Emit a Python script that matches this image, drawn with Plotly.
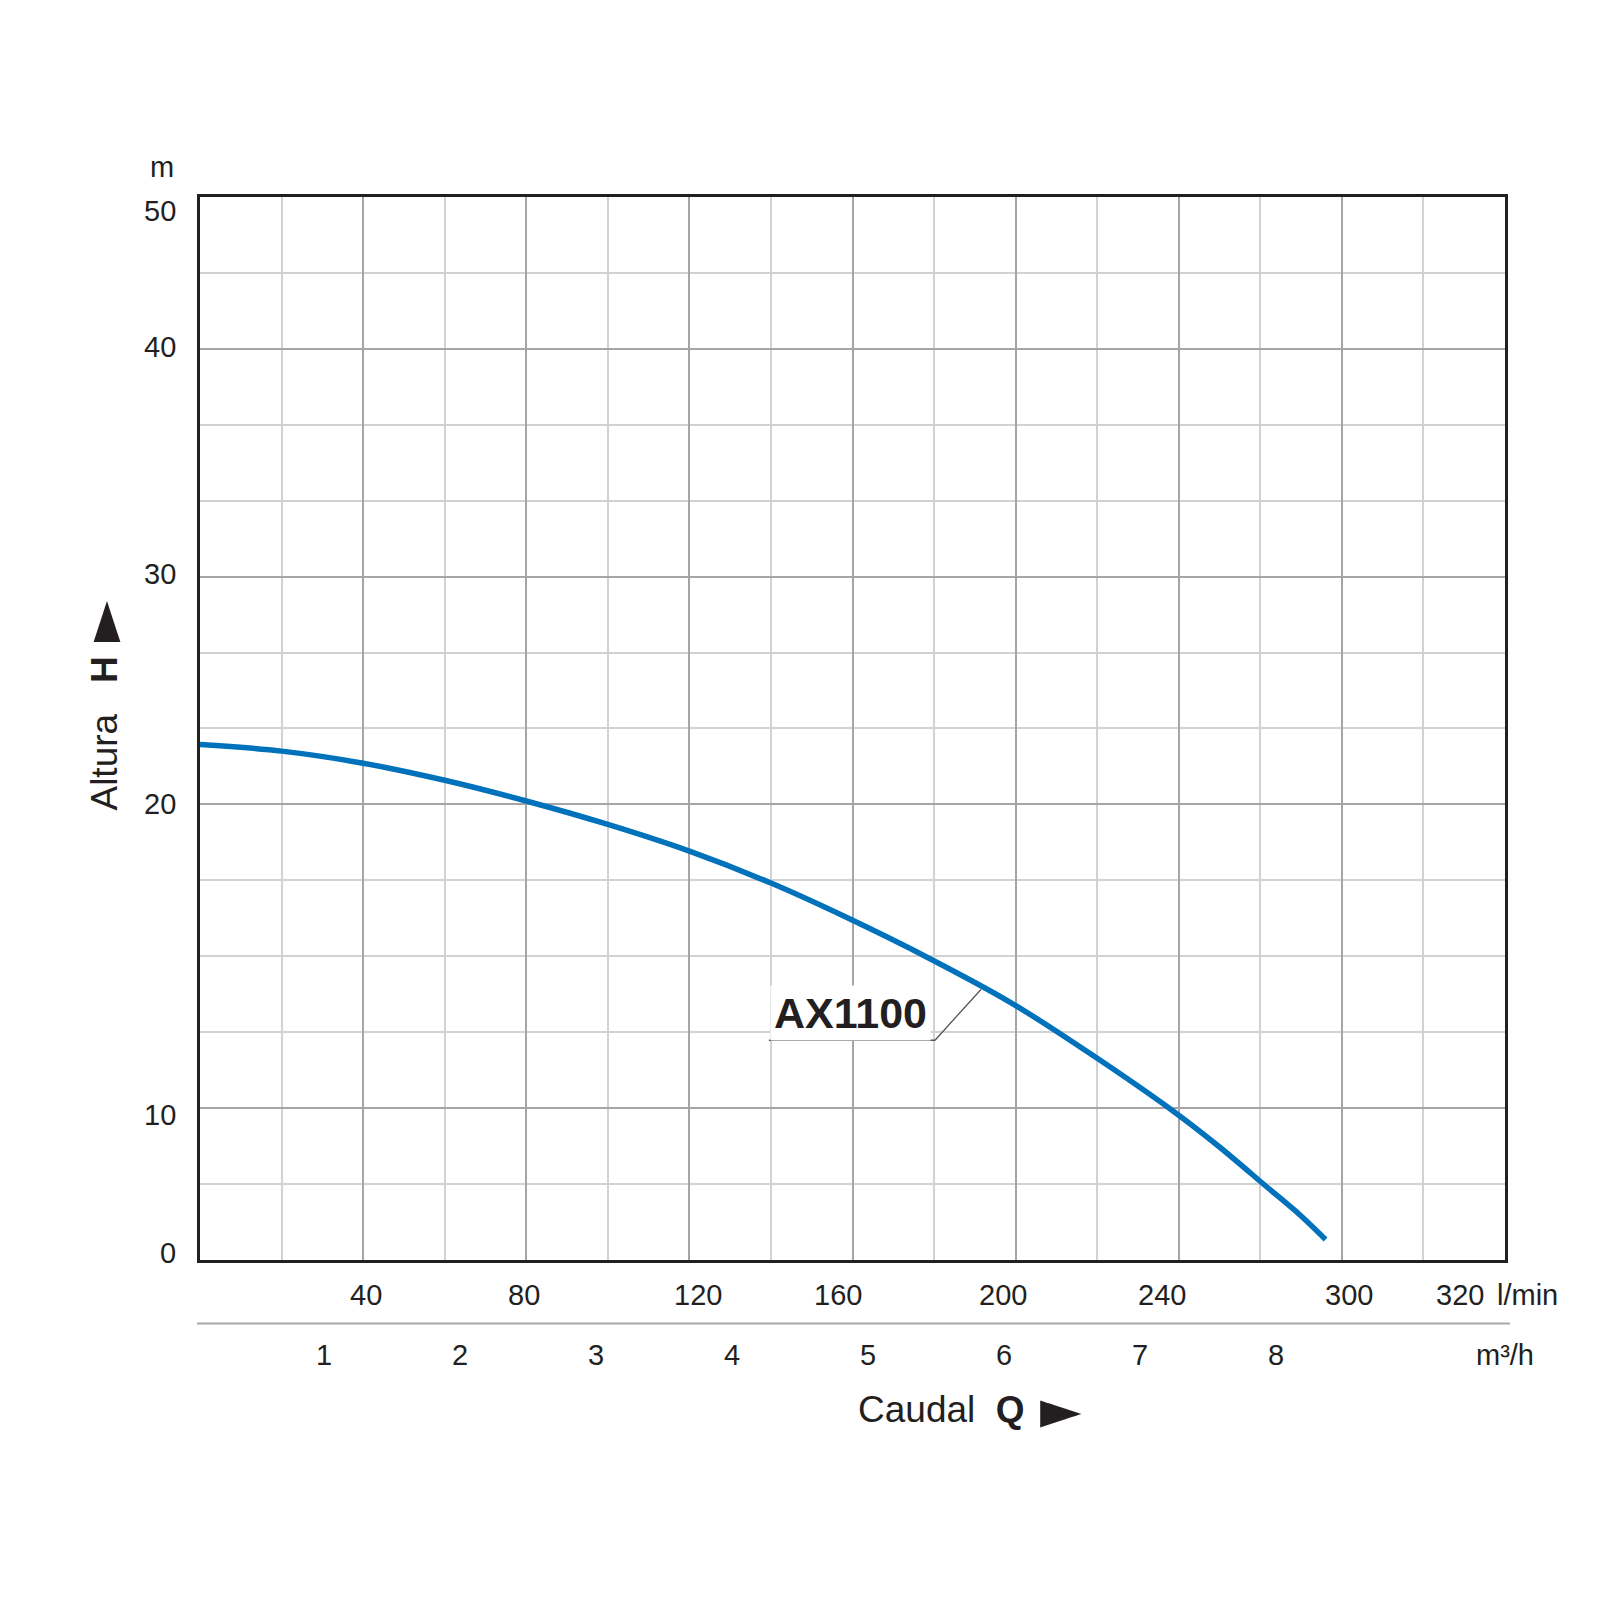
import numpy as np
import plotly.graph_objects as go

# AX1100 pump curve: flow Q (l/min), head H (m)
Q = [0, 20, 40, 60, 80, 100, 120, 140, 159, 179, 199, 219, 239, 255, 272, 285, 294]
H = [22.63, 22.34, 21.81, 21.06, 20.15, 19.34, 18.46, 17.41, 16.25, 14.92, 13.46,
     11.73, 9.73, 7.44, 4.87, 2.9, 1.35]

# printed scales
q_labels = [40, 80, 120, 160, 200, 240, 300, 320]
m3h_labels = [1, 2, 3, 4, 5, 6, 7, 8]
h_labels = [0, 10, 20, 30, 40, 50]

label_q = 191.5  # where the AX1100 leader touches the curve

FONT = "Liberation Sans, Arial, sans-serif"
INK = "#231f20"
BLUE = "#0072bc"
GRID_DARK = "#a5a5a5"
GRID_LIGHT = "#d2d2d2"

# the printed scales sit unevenly on the grid cells (16 x 14 cells)
def qx(q):
    return np.interp(q, [0] + q_labels, np.arange(0, 17, 2))


def hy(h):
    return np.interp(h, h_labels, [0, 2, 6, 9, 12, 14])


fig = go.Figure()
fig.add_trace(go.Scatter(
    x=qx(Q), y=hy(H), mode="lines",
    line=dict(color=BLUE, width=5.5, shape="spline", smoothing=1.0),
    hoverinfo="skip", showlegend=False,
))

lx = float(qx(label_q))
ly = float(hy(np.interp(label_q, Q, H)))
fig.add_shape(type="path", xref="x", yref="y",
              path=f"M {lx - 2.6},{ly - 0.709} L {lx - 0.564},{ly - 0.709} L {lx},{ly - 0.04}",
              line=dict(color="#555555", width=1.3))
fig.add_annotation(x=lx - 1.595, y=ly - 0.35, xref="x", yref="y", text="<b>AX1100</b>",
                   xanchor="center", yanchor="middle",
                   showarrow=False, bgcolor="white", borderpad=3,
                   font=dict(family=FONT, size=43, color=INK))

tick_font = dict(family=FONT, size=29, color=INK)
title_font = dict(family=FONT, size=37, color=INK)
arrow_font = dict(family="DejaVu Sans", size=54, color=INK)

fig.update_layout(
    width=1600, height=1600,
    paper_bgcolor="white", plot_bgcolor="white",
    margin=dict(l=192, r=103, t=189, b=208),
    showlegend=False,
    font=dict(family=FONT, color=INK),
    xaxis=dict(range=[0, 16], tickvals=list(range(2, 16, 2)), showticklabels=False,
               showgrid=True, gridcolor=GRID_DARK, gridwidth=1.8,
               minor=dict(tickvals=list(range(1, 16, 2)), showgrid=True,
                          gridcolor=GRID_LIGHT, gridwidth=1.5),
               showline=True, mirror=True, linecolor=INK, linewidth=2.5,
               zeroline=False, ticks=""),
    yaxis=dict(range=[0, 14], domain=[0.1164, 1], tickvals=[2, 6, 9, 12], showticklabels=False,
               showgrid=True, gridcolor=GRID_DARK, gridwidth=1.8,
               minor=dict(tickvals=[1, 3, 4, 5, 7, 8, 10, 11, 13], showgrid=True,
                          gridcolor=GRID_LIGHT, gridwidth=1.5),
               showline=True, mirror=True, linecolor=INK, linewidth=2.5,
               zeroline=False, ticks=""),
)

# l/min scale, printed slightly off the grid lines
q_label_pos = [2.03, 3.97, 6.10, 7.82, 9.85, 11.79, 14.09, 15.45]
for v, xp in zip(q_labels, q_label_pos):
    fig.add_annotation(text=str(v), xref="x", yref="paper", x=xp, y=0.0873,
                       xanchor="center", yanchor="middle", showarrow=False, font=tick_font)
fig.add_annotation(text="l/min", xref="paper", yref="paper", x=0.9923, y=0.0873,
                   xanchor="left", yanchor="middle", showarrow=False, font=tick_font)

# m³/h scale under a thin rule
m3h_range = [0.0919, 9.6875]
fig.add_shape(type="line", xref="paper", yref="paper", x0=-0.0023, x1=1.0038,
              y0=0.0636, y1=0.0636, line=dict(color="#a8a8a8", width=2))
for v in m3h_labels:
    fig.add_annotation(text=str(v), xref="paper", yref="paper",
                       x=(v - m3h_range[0]) / (m3h_range[1] - m3h_range[0]), y=0.0374,
                       xanchor="center", yanchor="middle", showarrow=False, font=tick_font)
fig.add_annotation(text="m³/h", xref="paper", yref="paper", x=1.0, y=0.0374,
                   xanchor="center", yanchor="middle", showarrow=False, font=tick_font)

# head scale
h_label_pos = [0.09, 1.91, 6.0, 9.03, 12.02, 13.815]
for v, yp in zip(h_labels, h_label_pos):
    fig.add_annotation(text=str(v), xref="paper", yref="y", x=-0.0171, y=yp,
                       xanchor="right", yanchor="middle", showarrow=False, font=tick_font)
fig.add_annotation(text="m", xref="paper", yref="paper", x=-0.0293, y=1.025,
                   xanchor="center", yanchor="middle", showarrow=False, font=tick_font)

# axis titles with their arrows
fig.add_annotation(text="Caudal&nbsp;&nbsp;<b>Q</b>", xref="paper", yref="paper",
                   x=0.568, y=-0.0083, xanchor="center", yanchor="middle",
                   showarrow=False, font=title_font)
fig.add_annotation(text="►", xref="paper", yref="paper",
                   x=0.6596, y=-0.0075, xanchor="center", yanchor="middle",
                   showarrow=False, font=arrow_font)
fig.add_annotation(text="Altura&nbsp;&nbsp;&nbsp;<b>H</b>", xref="paper", yref="paper",
                   x=-0.0728, y=0.554, xanchor="center", yanchor="middle",
                   textangle=-90, showarrow=False, font=title_font)
fig.add_annotation(text="►", xref="paper", yref="paper",
                   x=-0.074, y=0.6476, xanchor="center", yanchor="middle",
                   textangle=-90, showarrow=False, font=arrow_font)

fig.write_html("out.html")
